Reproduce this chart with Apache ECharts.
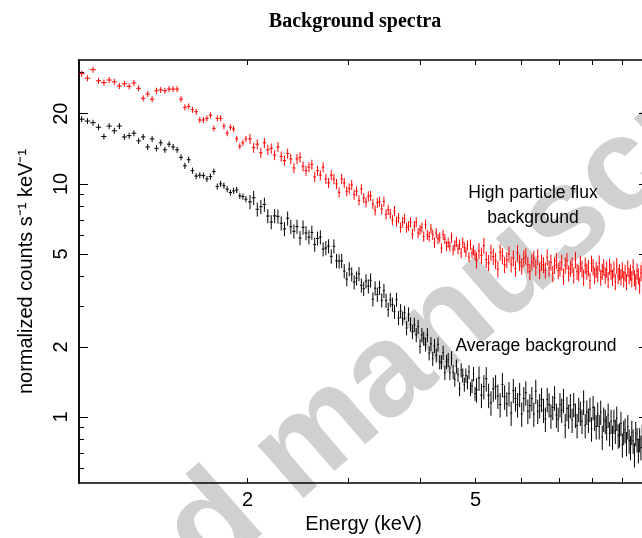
<!DOCTYPE html>
<html>
<head>
<meta charset="utf-8">
<script src="https://cdn.jsdelivr.net/npm/echarts@6/dist/echarts.min.js"></script>
<style>
  html, body { margin: 0; padding: 0; background: #fff; }
  #chart { width: 642px; height: 538px; }
</style>
</head>
<body>
<div id="chart"></div>
<script>
// bin centres (keV), three binning ranges
const energyLow = [1.027, 1.051, 1.075, 1.099, 1.123, 1.147, 1.171, 1.195, 1.219, 1.243,
  1.267, 1.291, 1.315, 1.339, 1.363, 1.387, 1.411, 1.435, 1.459, 1.483,
  1.507, 1.531, 1.555, 1.579, 1.603, 1.627, 1.651, 1.675, 1.699, 1.723,
  1.747, 1.771, 1.795, 1.819, 1.843, 1.867, 1.891, 1.915, 1.939, 1.963, 1.987]
const energyMid = [2.02, 2.05, 2.08, 2.11, 2.14, 2.17, 2.20, 2.23, 2.26, 2.29,
  2.32, 2.35, 2.38, 2.41, 2.44, 2.47, 2.50, 2.53, 2.56, 2.59,
  2.62, 2.65, 2.68, 2.71, 2.74, 2.77, 2.80, 2.83, 2.86, 2.89,
  2.92, 2.95, 2.98, 3.01, 3.04, 3.07, 3.10, 3.13, 3.16, 3.19,
  3.22, 3.25, 3.28, 3.31, 3.34, 3.37, 3.40, 3.43, 3.46, 3.49,
  3.52, 3.55, 3.58, 3.61, 3.64, 3.67, 3.70, 3.73, 3.76, 3.79,
  3.82, 3.85, 3.88, 3.91, 3.94, 3.97, 4.00, 4.03, 4.06, 4.09,
  4.12, 4.15, 4.18, 4.21, 4.24, 4.27, 4.30, 4.33, 4.36, 4.39,
  4.42, 4.45, 4.48, 4.51, 4.54, 4.57, 4.60, 4.63, 4.66, 4.69,
  4.72, 4.75, 4.78, 4.81, 4.84, 4.87, 4.90, 4.93, 4.96, 4.99]
const energyHigh = [5.02, 5.07, 5.12, 5.17, 5.22, 5.27, 5.32, 5.37, 5.42, 5.47,
  5.52, 5.57, 5.62, 5.67, 5.72, 5.77, 5.82, 5.87, 5.92, 5.97,
  6.02, 6.07, 6.12, 6.17, 6.22, 6.27, 6.32, 6.37, 6.42, 6.47,
  6.52, 6.57, 6.62, 6.67, 6.72, 6.77, 6.82, 6.87, 6.92, 6.97,
  7.02, 7.07, 7.12, 7.17, 7.22, 7.27, 7.32, 7.37, 7.42, 7.47,
  7.52, 7.57, 7.62, 7.67, 7.72, 7.77, 7.82, 7.87, 7.92, 7.97,
  8.02, 8.07, 8.12, 8.17, 8.22, 8.27, 8.32, 8.37, 8.42, 8.47,
  8.52, 8.57, 8.62, 8.67, 8.72, 8.77, 8.82, 8.87, 8.92, 8.97,
  9.02, 9.07, 9.12, 9.17, 9.22, 9.27, 9.32, 9.37, 9.42, 9.47,
  9.52, 9.57, 9.62, 9.67, 9.72, 9.77, 9.82, 9.87, 9.92, 9.97]

// high particle flux background (red)
const highLow = [29.7, 28.4, 30.9, 27.7, 27.2, 27.9, 27.4, 26.3, 26.9, 26.2,
  27.1, 25.7, 23.3, 24.3, 23.1, 25.1, 25.3, 25.1, 25.5, 25.5,
  25.5, 23.1, 21.3, 21.5, 20.8, 20.4, 18.8, 18.8, 19.1, 19.7,
  17.3, 19.1, 19.1, 17.7, 16.5, 17.5, 17.2, 15.6, 14.5, 15.0, 15.6]
const highMid = [15.6, 14.3, 14.8, 13.6, 15.0, 14.0, 14.2, 13.3, 14.4, 13.1,
  12.6, 13.5, 12.8, 11.7, 12.8, 13.0, 11.9, 11.4, 11.8, 12.1,
  10.7, 11.4, 10.9, 11.8, 10.5, 10.1, 10.9, 10.5, 10.0, 9.2,
  10.5, 10.1, 9.3, 9.55, 9.9, 9.0, 9.3, 8.5, 9.5, 8.7,
  8.35, 8.85, 8.9, 8.2, 7.7, 8.3, 8.4, 7.8, 8.4, 7.4,
  7.75, 7.45, 7.0, 7.65, 6.9, 7.15, 6.5, 6.85, 7.1, 6.5,
  6.6, 6.85, 6.1, 6.6, 6.85, 6.15, 6.35, 6.5, 5.95, 6.7,
  6.05, 5.95, 6.4, 6.05, 5.6, 6.15, 5.8, 5.9, 5.3, 6.05,
  5.8, 5.4, 5.6, 5.4, 5.9, 5.2, 5.45, 5.65, 5.25, 5.5,
  5.05, 5.6, 5.35, 5.1, 5.45, 4.85, 5.5, 5.05, 5.2, 4.95]
const highHigh = [4.71, 5.16, 4.94, 5.44, 4.74, 4.59, 5.08, 4.88, 4.68, 4.31,
  5.09, 4.91, 4.50, 4.72, 4.99, 4.53, 4.80, 4.34, 5.06, 4.60,
  4.43, 4.80, 4.90, 4.49, 4.20, 4.62, 4.78, 4.38, 4.86, 4.24,
  4.61, 4.49, 4.26, 4.85, 4.35, 4.61, 4.12, 4.48, 4.69, 4.25,
  4.35, 4.60, 4.01, 4.47, 4.67, 4.14, 4.34, 4.49, 4.06, 4.72,
  4.21, 4.15, 4.55, 4.33, 3.97, 4.47, 4.22, 4.36, 3.85, 4.56,
  4.40, 4.04, 4.29, 4.13, 4.57, 3.97, 4.21, 4.40, 4.05, 4.29,
  3.88, 4.43, 4.22, 3.96, 4.31, 3.80, 4.45, 4.04, 4.19, 3.98,
  4.27, 3.91, 4.16, 3.80, 4.34, 4.03, 4.17, 3.91, 4.40, 3.95,
  3.80, 4.22, 4.02, 3.67, 4.15, 4.29, 3.89, 3.80, 4.03, 4.21]

// average background (black)
const avgLow = [18.95, 18.6, 18.3, 17.5, 15.96, 17.7, 16.9, 17.7, 15.9, 16.1,
  16.5, 15.3, 15.9, 14.4, 15.6, 14.2, 15.0, 14.0, 14.8, 14.4,
  14.0, 13.0, 11.95, 12.7, 11.4, 10.8, 10.9, 10.85, 10.5, 10.75,
  11.3, 9.74, 10.0, 9.83, 9.49, 9.18, 9.33, 9.42, 8.88, 8.82, 8.60]
const avgMid = [8.37, 8.72, 7.78, 7.98, 8.16, 7.28, 6.86, 7.29, 7.26, 6.78,
  6.41, 7.12, 6.55, 6.26, 6.56, 5.86, 6.51, 6.16, 5.91, 6.19,
  5.50, 5.83, 5.91, 5.25, 5.31, 5.41, 4.89, 5.40, 4.68, 4.66,
  4.68, 4.23, 3.91, 4.31, 4.10, 3.79, 3.94, 4.11, 3.67, 3.55,
  3.83, 3.64, 3.86, 3.20, 3.57, 3.35, 3.59, 3.17, 3.48, 3.16,
  2.89, 3.18, 3.04, 2.83, 3.19, 2.66, 2.85, 2.65, 2.80, 2.41,
  2.76, 2.50, 2.32, 2.49, 2.25, 2.44, 2.01, 2.25, 2.17, 2.05,
  2.25, 1.88, 2.06, 1.78, 2.02, 1.84, 2.05, 1.72, 1.72, 1.89,
  1.55, 1.73, 1.76, 1.55, 1.79, 1.56, 1.45, 1.65, 1.52, 1.32,
  1.59, 1.51, 1.38, 1.51, 1.41, 1.56, 1.32, 1.36, 1.53, 1.26]
const avgHigh = [1.31, 1.47, 1.24, 1.35, 1.46, 1.24, 1.15, 1.32, 1.35, 1.23,
  1.13, 1.38, 1.22, 1.14, 1.26, 1.04, 1.30, 1.20, 1.13, 1.25,
  1.03, 1.20, 1.27, 1.06, 1.12, 1.20, 1.03, 1.29, 1.06, 1.12,
  1.19, 1.07, 0.98, 1.19, 1.13, 1.01, 1.10, 1.21, 1.02, 0.98,
  1.13, 1.07, 1.18, 0.92, 1.09, 1.01, 1.12, 0.97, 1.13, 1.02,
  0.92, 1.08, 1.04, 0.96, 1.16, 0.92, 1.05, 0.97, 1.08, 0.89,
  1.10, 0.99, 0.91, 1.03, 0.91, 1.05, 0.82, 0.98, 0.96, 0.90,
  1.02, 0.85, 0.96, 0.82, 0.96, 0.87, 0.99, 0.83, 0.84, 0.94,
  0.76, 0.86, 0.88, 0.77, 0.91, 0.79, 0.74, 0.86, 0.79, 0.69,
  0.85, 0.80, 0.72, 0.80, 0.74, 0.83, 0.68, 0.70, 0.82, 0.65]

// half bin width (keV) and relative errors for low / mid / high ranges
const halfBin = [0.012, 0.015, 0.025]
const highErr = [0.03, 0.05, 0.08]
const avgErr = [0.03, 0.07, 0.12]

// axes
const xRange = [1.016, 10]
const yRange = [0.521, 34]
const xTicks = [2, 3, 4, 5, 6, 7, 8, 9]
const xLabels = [2, 5]
const yMajor = [1, 2, 5, 10, 20]
const yMinor = [0.6, 0.7, 0.8, 0.9, 3, 4, 6, 7, 8, 9, 30]

const FONT = 'Liberation Sans, Arial, Helvetica, sans-serif'

//把三段能量合成误差棒数据
const buildRows = (segs, errs) => {
  const energies = [energyLow, energyMid, energyHigh]
  const rows = []
  segs.forEach((vals, s) => {
    vals.forEach((v, i) => {
      rows.push([energies[s][i], v, halfBin[s], errs[s]])
    })
  })
  return rows
}

//十字误差棒
const crossItem = (color) => (params, api) => {
  const e = api.value(0)
  const v = api.value(1)
  const dx = api.value(2)
  const r = api.value(3)
  const a = api.coord([e - dx, v])
  const b = api.coord([e + dx, v])
  const c = api.coord([e, v * (1 + r)])
  const d = api.coord([e, v * (1 - r)])
  return {
    type: 'group',
    children: [
      { type: 'line', shape: { x1: a[0], y1: a[1], x2: b[0], y2: b[1] }, style: { stroke: color, lineWidth: 1 } },
      { type: 'line', shape: { x1: c[0], y1: c[1], x2: d[0], y2: d[1] }, style: { stroke: color, lineWidth: 1 } }
    ]
  }
}

const frameLine = { show: true, lineStyle: { color: '#000', width: 1.5 } }

const xAxisCfg = (position, withLabels) => ({
  type: 'log',
  min: xRange[0],
  max: xRange[1],
  position: position,
  axisLine: frameLine,
  axisTick: { show: true, inside: true, length: 5, customValues: xTicks, lineStyle: { color: '#000', width: 1 } },
  axisLabel: withLabels
    ? { show: true, customValues: xLabels, fontSize: 20, color: '#000', fontFamily: FONT, margin: 7, formatter: (v) => String(v) }
    : { show: false },
  splitLine: { show: false },
  name: withLabels ? 'Energy (keV)' : '',
  nameLocation: 'middle',
  nameGap: 31,
  nameTextStyle: { fontSize: 20, color: '#000', fontFamily: FONT }
})

const yAxisCfg = (position, ticks, len, withLabels) => ({
  type: 'log',
  min: yRange[0],
  max: yRange[1],
  position: position,
  axisLine: frameLine,
  axisTick: { show: true, inside: true, length: len, customValues: ticks, lineStyle: { color: '#000', width: 1 } },
  axisLabel: withLabels
    ? { show: true, customValues: yMajor, rotate: 90, fontSize: 20, color: '#000', fontFamily: FONT, margin: 8, formatter: (v) => String(v) }
    : { show: false },
  splitLine: { show: false },
  name: withLabels ? 'normalized counts s⁻¹ keV⁻¹' : '',
  nameLocation: 'middle',
  nameGap: 43,
  nameTextStyle: { fontSize: 20, color: '#000', fontFamily: FONT }
})

const chart = echarts.init(document.getElementById('chart'), null, { renderer: 'canvas' })

chart.setOption({
  animation: false,
  backgroundColor: '#fff',
  title: {
    text: 'Background spectra',
    left: 350,
    top: 7,
    textAlign: 'center',
    textStyle: { fontFamily: 'Liberation Serif, Times New Roman, serif', fontWeight: 'bold', fontSize: 20, color: '#000' }
  },
  grid: { left: 79, top: 60, width: 569, height: 423, containLabel: false, outerBoundsMode: 'none' },
  xAxis: [xAxisCfg('bottom', true), xAxisCfg('top', false)],
  yAxis: [
    yAxisCfg('left', yMajor, 9, true),
    yAxisCfg('right', yMajor, 9, false),
    yAxisCfg('right', yMinor, 5, false),
    yAxisCfg('left', yMinor, 5, false)
  ],
  graphic: [
    {
      type: 'text', x: 303, y: 450, rotation: 41 * Math.PI / 180, z: -10,
      style: { text: 'Accepted manuscript', font: 'bold 132px Liberation Sans', fill: '#d0d0d0', textAlign: 'center', textVerticalAlign: 'middle' }
    },
    {
      type: 'text', x: 533, y: 193, z: 10,
      style: { text: 'High particle flux', font: '17.5px Liberation Sans', fill: '#000', textAlign: 'center', textVerticalAlign: 'middle' }
    },
    {
      type: 'text', x: 533, y: 218, z: 10,
      style: { text: 'background', font: '17.5px Liberation Sans', fill: '#000', textAlign: 'center', textVerticalAlign: 'middle' }
    },
    {
      type: 'text', x: 536, y: 346, z: 10,
      style: { text: 'Average background', font: '17.5px Liberation Sans', fill: '#000', textAlign: 'center', textVerticalAlign: 'middle' }
    }
  ],
  series: [
    {
      type: 'custom',
      name: 'High particle flux background',
      xAxisIndex: 0,
      yAxisIndex: 0,
      clip: true,
      renderItem: crossItem('#ff0000'),
      encode: { x: 0, y: 1 },
      data: buildRows([highLow, highMid, highHigh], highErr)
    },
    {
      type: 'custom',
      name: 'Average background',
      xAxisIndex: 0,
      yAxisIndex: 0,
      clip: true,
      renderItem: crossItem('#000000'),
      encode: { x: 0, y: 1 },
      data: buildRows([avgLow, avgMid, avgHigh], avgErr)
    }
  ]
})
</script>
</body>
</html>
